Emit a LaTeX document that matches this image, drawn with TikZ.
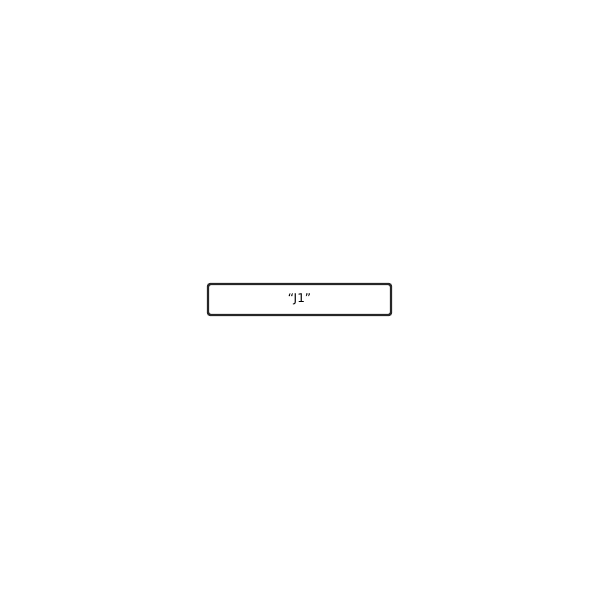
\documentclass[tikz,border=0pt]{standalone}
\usepackage{fontspec}
\setmainfont{DejaVu Sans}
\usetikzlibrary{positioning}

\begin{document}
\begin{tikzpicture}[x=1pt, y=1pt]
    % Canvas: 600 x 600, y downwards as in the picture
    \useasboundingbox (0,0) rectangle (600,-600);
    \tikzset{
        labelbox/.style={draw=black!85, line width=2.4pt, rounded corners=2.5pt,
            minimum width=183pt, minimum height=31pt, inner sep=0pt,
            font=\fontsize{12}{14}\selectfont}
    }
    % Single label box
    \node[labelbox] (jone) at (299.5,-299.5) {“J1”};
\end{tikzpicture}
\end{document}
